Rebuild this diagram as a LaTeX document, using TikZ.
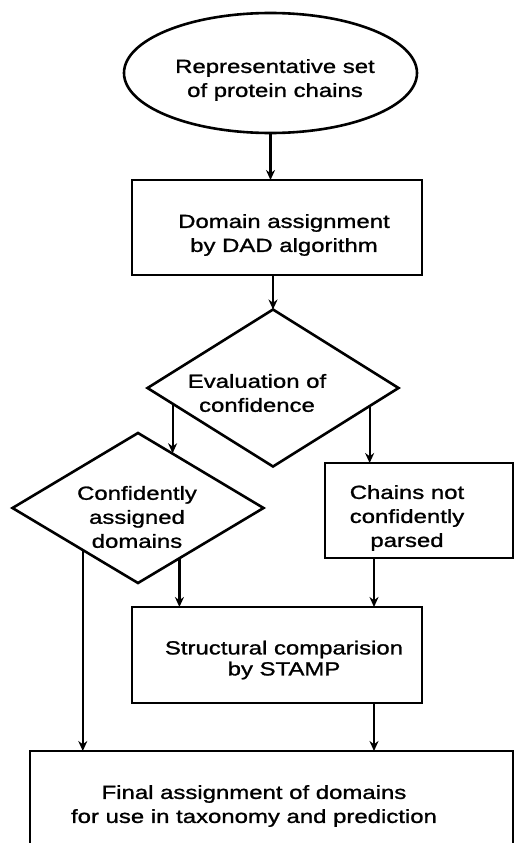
\documentclass[tikz,border=0pt]{standalone}
\usepackage{fontspec}
\setmainfont{Liberation Sans}[FakeStretch=1.26,FakeBold=1.2]
\usetikzlibrary{shapes.geometric,arrows.meta,calc}
\tikzset{
  shp/.style={draw=black, line width=2.6pt, inner sep=0pt, outer sep=0pt},
  boxshape/.style={shp, rectangle},
  dshape/.style={shp, diamond},
  eshape/.style={shp, ellipse},
  lbl/.style={align=center, inner sep=0pt, font=\fontsize{19}{24}\selectfont},
  arr/.style={line width=2.2pt, -{Stealth[length=10pt,width=9pt]}},
}
\begin{document}
\begin{tikzpicture}[x=1pt,y=-1pt]
\useasboundingbox (0,0) rectangle (515,843);
\fill[white] (0,0) rectangle (515,843);
\clip (0,0) rectangle (515,843);
% shapes
\node[eshape, minimum width=293pt, minimum height=120pt] (e) at (270.5,73) {};
\node[boxshape, minimum width=290pt, minimum height=95pt] (b1) at (277,227.5) {};
\node[dshape, minimum width=251pt, minimum height=157pt] (d1) at (273,388) {};
\node[boxshape, minimum width=188pt, minimum height=95pt] (b2) at (419,510.5) {};
\node[dshape, minimum width=251pt, minimum height=150pt] (d2) at (138,508) {};
\node[boxshape, minimum width=290pt, minimum height=96pt] (b3) at (277,655) {};
\node[boxshape, minimum width=483pt, minimum height=119pt] (b4) at (271.5,810.5) {};
% texts
\node[lbl] (te) at (275,80) {Representative set\\of protein chains};
\node[lbl] (tb1) at (284,235) {Domain assignment\\ by DAD algorithm};
\node[lbl] (td1) at (257,393) {Evaluation of\\confidence};
\node[lbl] (td2) at (137,517) {Confidently\\assigned\\domains};
\node[lbl] (tb2) at (407,518) {Chains not\\confidently\\parsed};
\node[lbl, font=\fontsize{19}{21}\selectfont] (tb3) at (284,660) {Structural comparision\\by STAMP};
\node[lbl] (tb4) at (254,806) {Final assignment of domains\\for use in taxonomy and prediction};
% connector points
\coordinate (a1) at ($(d1.west)!0.2!(d1.south)$);
\coordinate (a2) at ($(d2.north)!0.27!(d2.east)$);
\coordinate (a3) at ($(d1.east)!0.23!(d1.south)$);
\coordinate (a4) at ($(d2.east)!0.67!(d2.south)$);
\coordinate (a5) at ($(d2.west)!0.56!(d2.south)$);
\coordinate (c1) at ([xshift=-45pt]b2.south);
\coordinate (c2) at ([xshift=97pt]b3.south);
% connectors
\draw[arr] (e.south) -- (e.south |- b1.north);
\draw[arr] (b1.south -| d1.north) -- (d1.north);
\draw[arr] (a1) -- (a1 |- a2);
\draw[arr] (a3) -- (a3 |- b2.north);
\draw[arr] (a4) -- (a4 |- b3.north);
\draw[arr] (a5) -- (a5 |- b4.north);
\draw[arr] (c1) -- (c1 |- b3.north);
\draw[arr] (c2) -- (c2 |- b4.north);
\end{tikzpicture}
\end{document}
